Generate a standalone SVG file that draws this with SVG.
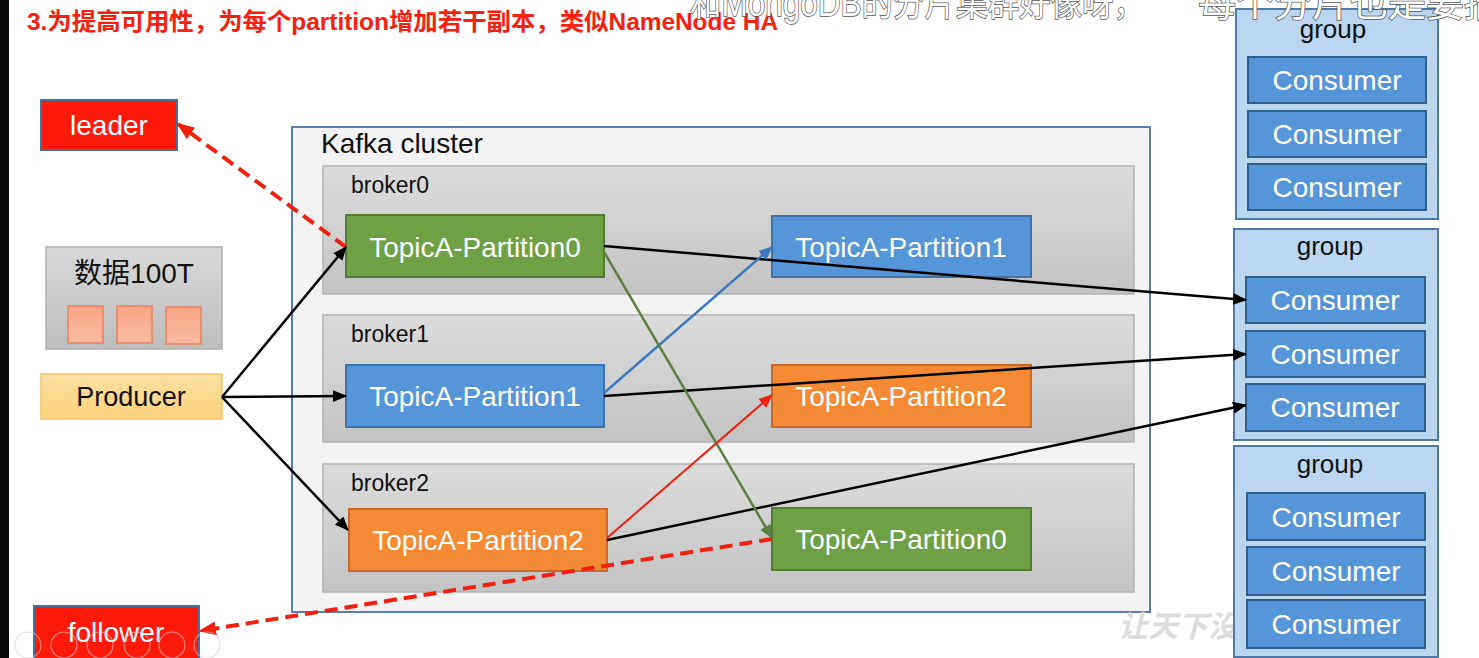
<svg xmlns="http://www.w3.org/2000/svg" width="1479" height="658" viewBox="0 0 1479 658">
<defs>
<style>
.lat{font-family:"Liberation Sans",Arial,sans-serif}
.cjk{font-family:"Liberation Sans","Noto Sans CJK SC",sans-serif}
.wt{fill:#ffffff;font-size:28px;text-anchor:middle}
.bk{fill:#111111}
.part-g{fill:#6fa044;stroke:#527a30;stroke-width:2}
.part-b{fill:#5596d8;stroke:#3e73a8;stroke-width:2}
.part-o{fill:#f58a35;stroke:#c8692a;stroke-width:2}
.broker{fill:url(#gBroker);stroke:#b2b2b2;stroke-width:1.5}
.grp{fill:#bcd6ef;stroke:#4f7aa6;stroke-width:2}
.cons{fill:#5596d8;stroke:#2e5f8f;stroke-width:2}
.sq{fill:url(#gSq);stroke:#e8835f;stroke-width:1.5}
.ctl{fill:none;stroke:#cfcfcf;stroke-width:1.2;opacity:0.6}
</style>
<linearGradient id="gBroker" x1="0" y1="0" x2="0" y2="1"><stop offset="0" stop-color="#dcdcdc"/><stop offset="1" stop-color="#c3c3c3"/></linearGradient>
<linearGradient id="gData" x1="0" y1="0" x2="0" y2="1"><stop offset="0" stop-color="#d9d9d9"/><stop offset="1" stop-color="#bdbdbd"/></linearGradient>
<linearGradient id="gSq" x1="0" y1="0" x2="0" y2="1"><stop offset="0" stop-color="#f7a585"/><stop offset="1" stop-color="#fbbb9f"/></linearGradient>
<linearGradient id="gProd" x1="0" y1="0" x2="0" y2="1"><stop offset="0" stop-color="#fde0a0"/><stop offset="1" stop-color="#fcd27c"/></linearGradient>
<marker id="aK" markerUnits="userSpaceOnUse" markerWidth="14" markerHeight="12" refX="13" refY="6" orient="auto"><path d="M0,0 L14,6 L0,12 Z" fill="#000"/></marker>
<marker id="aB" markerUnits="userSpaceOnUse" markerWidth="14" markerHeight="12" refX="13" refY="6" orient="auto"><path d="M0,0 L14,6 L0,12 Z" fill="#3a78c0"/></marker>
<marker id="aG" markerUnits="userSpaceOnUse" markerWidth="14" markerHeight="12" refX="13" refY="6" orient="auto"><path d="M0,0 L14,6 L0,12 Z" fill="#5a8040"/></marker>
<marker id="aR" markerUnits="userSpaceOnUse" markerWidth="14" markerHeight="12" refX="13" refY="6" orient="auto"><path d="M0,0 L14,6 L0,12 Z" fill="#f02010"/></marker>
<marker id="aRd" markerUnits="userSpaceOnUse" markerWidth="18" markerHeight="14" refX="16" refY="7" orient="auto"><path d="M0,0 L18,7 L0,14 Z" fill="#f02010"/></marker>
</defs>

<rect x="0" y="0" width="1479" height="658" fill="#ffffff"/>
<rect x="0" y="0" width="9" height="658" fill="#0a0a0a"/>

<text x="27" y="30" class="cjk" font-size="24" font-weight="bold" fill="#f5210f" textLength="751" lengthAdjust="spacingAndGlyphs">3.为提高可用性，为每个partition增加若干副本，类似NameNode HA</text>

<g id="leader"><rect x="41" y="100" width="136" height="50" fill="#fe1a0a" stroke="#41719c" stroke-width="2"/><text x="109" y="135" class="lat wt">leader</text></g>

<g id="data100T">
<rect x="46" y="247" width="176" height="102" fill="url(#gData)" stroke="#b0b0b0" stroke-width="1.5"/>
<text x="134" y="283" class="cjk bk" font-size="28" text-anchor="middle">数据100T</text>
<rect x="68" y="306" width="35" height="37" class="sq"/>
<rect x="117" y="306" width="35" height="37" class="sq"/>
<rect x="166" y="307" width="35" height="37" class="sq"/>
</g>

<g id="producer"><rect x="41" y="374" width="181" height="45" fill="url(#gProd)" stroke="#f2c46b" stroke-width="1.5"/><text x="131" y="406" class="lat bk" font-size="27" text-anchor="middle">Producer</text></g>

<g id="kafka-cluster">
<rect x="292" y="127" width="858" height="485" fill="#f2f2f2" stroke="#5b7ea8" stroke-width="2"/>
<text x="321" y="153" class="lat bk" font-size="28">Kafka cluster</text>
</g>
<g id="broker0"><rect x="323" y="166" width="811" height="128" class="broker"/><text x="351" y="193" class="lat bk" font-size="23">broker0</text></g>
<g id="broker1"><rect x="323" y="315" width="811" height="127" class="broker"/><text x="351" y="342" class="lat bk" font-size="23">broker1</text></g>
<g id="broker2"><rect x="323" y="464" width="811" height="128" class="broker"/><text x="351" y="491" class="lat bk" font-size="23">broker2</text></g>

<g id="b0-p0"><rect x="346" y="215" width="258" height="62" class="part-g"/><text x="475" y="257" class="lat wt">TopicA-Partition0</text></g>
<g id="b0-p1"><rect x="772" y="216" width="259" height="61" class="part-b"/><text x="901" y="257" class="lat wt">TopicA-Partition1</text></g>
<g id="b1-p1"><rect x="346" y="365" width="258" height="62" class="part-b"/><text x="475" y="406" class="lat wt">TopicA-Partition1</text></g>
<g id="b1-p2"><rect x="772" y="365" width="259" height="62" class="part-o"/><text x="901" y="406" class="lat wt">TopicA-Partition2</text></g>
<g id="b2-p2"><rect x="349" y="509" width="258" height="62" class="part-o"/><text x="478" y="550" class="lat wt">TopicA-Partition2</text></g>
<g id="b2-p0"><rect x="772" y="508" width="259" height="62" class="part-g"/><text x="901" y="549" class="lat wt">TopicA-Partition0</text></g>

<text x="1118" y="637" class="cjk" font-size="30" font-weight="bold" fill="#dcdcdc" font-style="italic">让天下没</text>

<g id="group1">
<rect x="1236" y="9" width="202" height="210" class="grp"/>
<text x="1333" y="38" class="lat bk" font-size="26" text-anchor="middle">group</text>
<rect x="1248" y="57" width="178" height="46" class="cons"/><text x="1337" y="90" class="lat wt">Consumer</text>
<rect x="1248" y="111" width="178" height="46" class="cons"/><text x="1337" y="144" class="lat wt">Consumer</text>
<rect x="1248" y="164" width="178" height="46" class="cons"/><text x="1337" y="197" class="lat wt">Consumer</text>
</g>
<g id="group2">
<rect x="1234" y="229" width="204" height="211" class="grp"/>
<text x="1330" y="255" class="lat bk" font-size="26" text-anchor="middle">group</text>
<rect x="1246" y="277" width="179" height="46" class="cons"/><text x="1335" y="310" class="lat wt">Consumer</text>
<rect x="1246" y="331" width="179" height="46" class="cons"/><text x="1335" y="364" class="lat wt">Consumer</text>
<rect x="1246" y="384" width="179" height="47" class="cons"/><text x="1335" y="417" class="lat wt">Consumer</text>
</g>
<g id="group3">
<rect x="1234" y="446" width="204" height="211" class="grp"/>
<text x="1330" y="473" class="lat bk" font-size="26" text-anchor="middle">group</text>
<rect x="1247" y="493" width="178" height="47" class="cons"/><text x="1336" y="527" class="lat wt">Consumer</text>
<rect x="1247" y="547" width="178" height="48" class="cons"/><text x="1336" y="581" class="lat wt">Consumer</text>
<rect x="1247" y="600" width="178" height="48" class="cons"/><text x="1336" y="634" class="lat wt">Consumer</text>
</g>

<g id="follower"><rect x="34" y="606" width="165" height="56" fill="#fe1a0a" stroke="#41719c" stroke-width="2"/><text x="116" y="642" class="lat wt">follower</text></g>

<g id="connectors" fill="none">
<line x1="346" y1="247" x2="178" y2="124" stroke="#f02010" stroke-width="4" stroke-dasharray="13,7" marker-end="url(#aRd)"/>
<line x1="772" y1="539" x2="200" y2="631" stroke="#f02010" stroke-width="4" stroke-dasharray="13,7" marker-end="url(#aRd)"/>
<line x1="222" y1="397" x2="346" y2="247" stroke="#000" stroke-width="2.5" marker-end="url(#aK)"/>
<line x1="222" y1="397" x2="346" y2="396" stroke="#000" stroke-width="2.5" marker-end="url(#aK)"/>
<line x1="222" y1="397" x2="348" y2="530" stroke="#000" stroke-width="2.5" marker-end="url(#aK)"/>
<line x1="604" y1="246" x2="1246" y2="300" stroke="#000" stroke-width="2.5" marker-end="url(#aK)"/>
<line x1="604" y1="396" x2="1246" y2="354" stroke="#000" stroke-width="2.5" marker-end="url(#aK)"/>
<line x1="607" y1="540" x2="1246" y2="405" stroke="#000" stroke-width="2.5" marker-end="url(#aK)"/>
<line x1="604" y1="393" x2="772" y2="247" stroke="#3a78c0" stroke-width="2.5" marker-end="url(#aB)"/>
<line x1="604" y1="252" x2="772" y2="538" stroke="#5a8040" stroke-width="2.5" marker-end="url(#aG)"/>
<line x1="607" y1="538" x2="772" y2="395" stroke="#f02010" stroke-width="2" marker-end="url(#aR)"/>
</g>

<g id="player-controls">
<circle cx="28" cy="645" r="13" class="ctl"/>
<circle cx="64" cy="645" r="13" class="ctl"/>
<circle cx="100" cy="645" r="13" class="ctl"/>
<circle cx="137" cy="645" r="13" class="ctl"/>
<circle cx="172" cy="645" r="13" class="ctl"/>
<circle cx="207" cy="645" r="13" class="ctl"/>
</g>

<g id="subtitle" font-size="36" fill="#ffffff" stroke="#555555" stroke-width="1.5" paint-order="stroke">
<text x="690" y="16" class="cjk" textLength="455" lengthAdjust="spacingAndGlyphs">和MongoDB的分片集群好像呀，</text>
<text x="1198" y="16" class="cjk" font-size="38">每个分片也是要搞</text>
</g>
</svg>
